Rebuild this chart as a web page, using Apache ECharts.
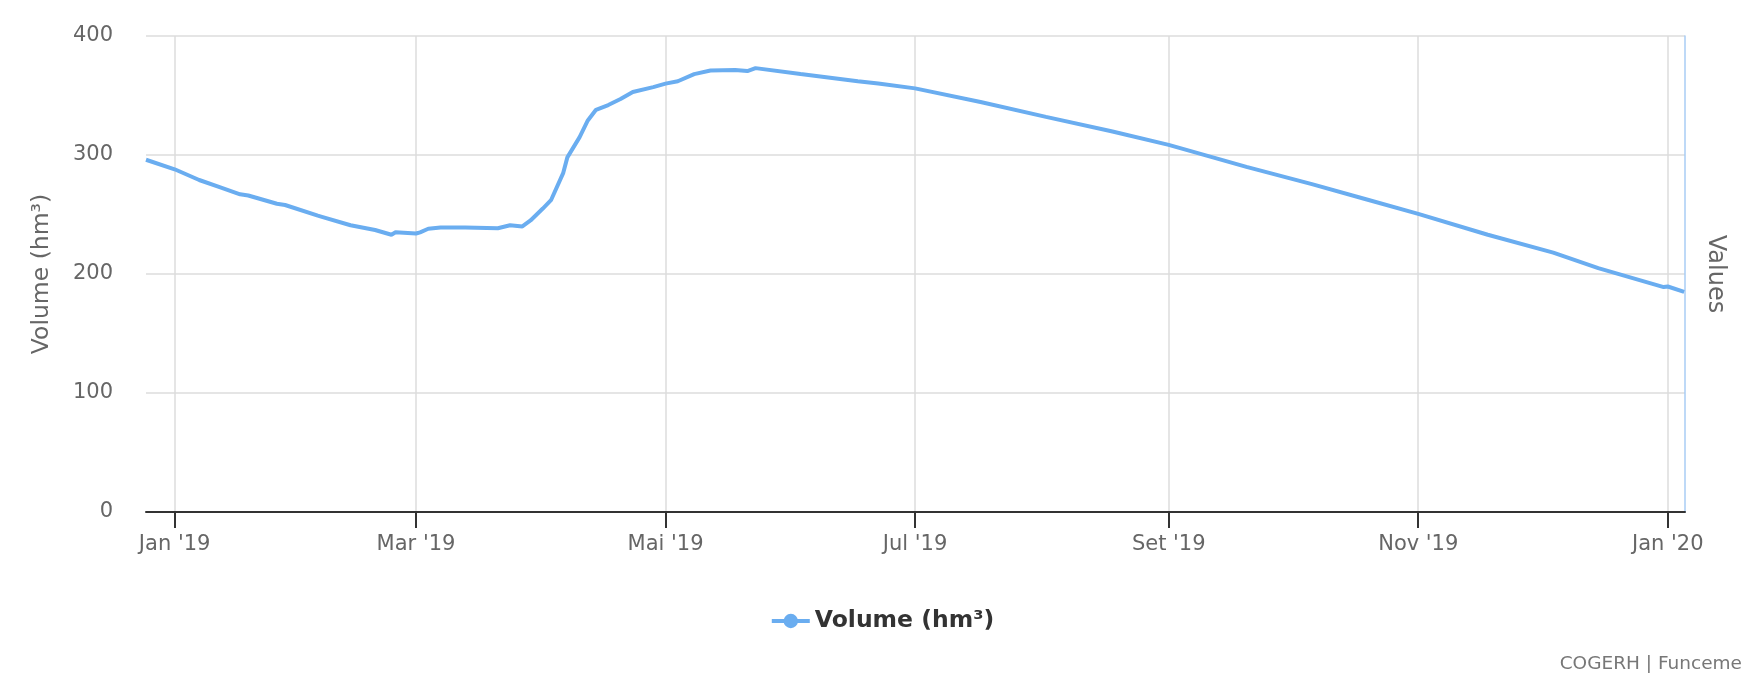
<!DOCTYPE html>
<html>
<head>
<meta charset="utf-8">
<title>Volume (hm³)</title>
<style>
  html, body { margin: 0; padding: 0; background: #fff; }
  #chart { width: 1764px; height: 690px; }
</style>
<script src="https://cdn.jsdelivr.net/npm/echarts@6/dist/echarts.min.js"></script>
</head>
<body>
<div id="chart"></div>
<script>
// dados
var dates = [
  '2018-12-25', '2019-01-01', '2019-01-07', '2019-01-12', '2019-01-17', '2019-01-19',
  '2019-01-26', '2019-01-28', '2019-02-05', '2019-02-06', '2019-02-13', '2019-02-19',
  '2019-02-23', '2019-02-24', '2019-03-01', '2019-03-02', '2019-03-04', '2019-03-07',
  '2019-03-13', '2019-03-21', '2019-03-24', '2019-03-27', '2019-03-29', '2019-04-01',
  '2019-04-03', '2019-04-06', '2019-04-07', '2019-04-10', '2019-04-12', '2019-04-14',
  '2019-04-17', '2019-04-20', '2019-04-23', '2019-04-28', '2019-05-01', '2019-05-04',
  '2019-05-08', '2019-05-12', '2019-05-18', '2019-05-21', '2019-05-23', '2019-06-03',
  '2019-06-17', '2019-06-22', '2019-07-01', '2019-07-17', '2019-08-02', '2019-08-18',
  '2019-09-01', '2019-09-20', '2019-10-06', '2019-10-19', '2019-11-01', '2019-11-18',
  '2019-12-04', '2019-12-15', '2019-12-31', '2020-01-01', '2020-01-05'
];
var volumes = [
  296, 288, 279, 273, 267, 266,
  259, 258, 249, 248, 241, 237,
  233, 235, 234, 235, 238, 239,
  239, 238.5, 241, 240, 245, 255,
  262, 285, 298, 315, 329, 338,
  342, 347, 353, 357, 360, 362,
  368, 371, 371.5, 370.5, 373, 368,
  362, 360, 356, 344.5, 332, 320,
  308.5, 290, 275.5, 263, 250.5, 233,
  218, 205, 189, 189.5, 185
];
var tickDates = ['2019-01-01', '2019-03-01', '2019-05-01', '2019-07-01', '2019-09-01', '2019-11-01', '2020-01-01'];
var monthNames = ['Jan', 'Fev', 'Mar', 'Abr', 'Mai', 'Jun', 'Jul', 'Ago', 'Set', 'Out', 'Nov', 'Dez'];
var yTicks = [0, 100, 200, 300, 400];

var seriesName = 'Volume (hm³)';
var lineColor = '#6aadf0';
var fontFamily = 'DejaVu Sans';

function t(s) { return echarts.time.parse(s).getTime(); }
var tickValues = tickDates.map(t);

var chart = echarts.init(document.getElementById('chart'));
var option = {
  animation: false,
  textStyle: { fontFamily: fontFamily },
  grid: { left: 146, right: 79, top: 36, bottom: 178 },
  legend: {
    data: [seriesName],
    left: 'center',
    top: 604,
    itemWidth: 38,
    itemHeight: 18,
    itemGap: 8,
    lineStyle: { width: 4 },
    textStyle: { fontFamily: fontFamily, fontSize: 23.5, fontWeight: 'bold', color: '#333' }
  },
  graphic: [{
    type: 'text',
    right: 22,
    top: 655,
    style: { text: 'COGERH | Funceme', fontFamily: fontFamily, fontSize: 18.5, fill: '#777' }
  }],
  xAxis: {
    type: 'value',
    min: t('2018-12-25'),
    max: t('2020-01-05 05:00'),
    axisLine: { onZero: false, lineStyle: { color: '#333', width: 2 } },
    axisTick: { customValues: tickValues, length: 16, lineStyle: { color: '#333', width: 2 } },
    axisLabel: {
      customValues: tickValues,
      margin: 22,
      fontSize: 21,
      color: '#666',
      fontFamily: fontFamily,
      formatter: function (v) {
        var d = new Date(v);
        return monthNames[d.getMonth()] + " '" + String(d.getFullYear()).slice(2);
      }
    },
    splitLine: { show: true, lineStyle: { color: '#dcdcdc', width: 1.5 } }
  },
  yAxis: [{
    type: 'value',
    min: yTicks[0],
    max: yTicks[yTicks.length - 1],
    interval: 100,
    name: 'Volume (hm³)',
    nameLocation: 'middle',
    nameGap: 92,
    nameRotate: 90,
    nameTextStyle: { fontSize: 23.5, color: '#666', fontFamily: fontFamily },
    axisLine: { show: false },
    axisTick: { show: false },
    axisLabel: { margin: 33, fontSize: 21, color: '#666', fontFamily: fontFamily },
    splitLine: { lineStyle: { color: '#dcdcdc', width: 1.5 } }
  }, {
    type: 'value',
    position: 'right',
    min: yTicks[0],
    max: yTicks[yTicks.length - 1],
    name: 'Values',
    nameLocation: 'middle',
    nameGap: 18,
    nameRotate: -90,
    nameTextStyle: { fontSize: 24, color: '#666', fontFamily: fontFamily },
    axisLine: { show: true, lineStyle: { color: '#a9cdf5', width: 1.5 } },
    axisTick: { show: false },
    axisLabel: { show: false },
    splitLine: { show: false }
  }],
  series: [{
    name: seriesName,
    type: 'line',
    yAxisIndex: 0,
    symbol: 'circle',
    symbolSize: 14,
    showSymbol: false,
    itemStyle: { color: lineColor },
    lineStyle: { color: lineColor, width: 4 },
    data: dates.map(function (d, i) { return [t(d), volumes[i]]; })
  }]
};
chart.setOption(option);
window.addEventListener('resize', chart.resize);
</script>
</body>
</html>
